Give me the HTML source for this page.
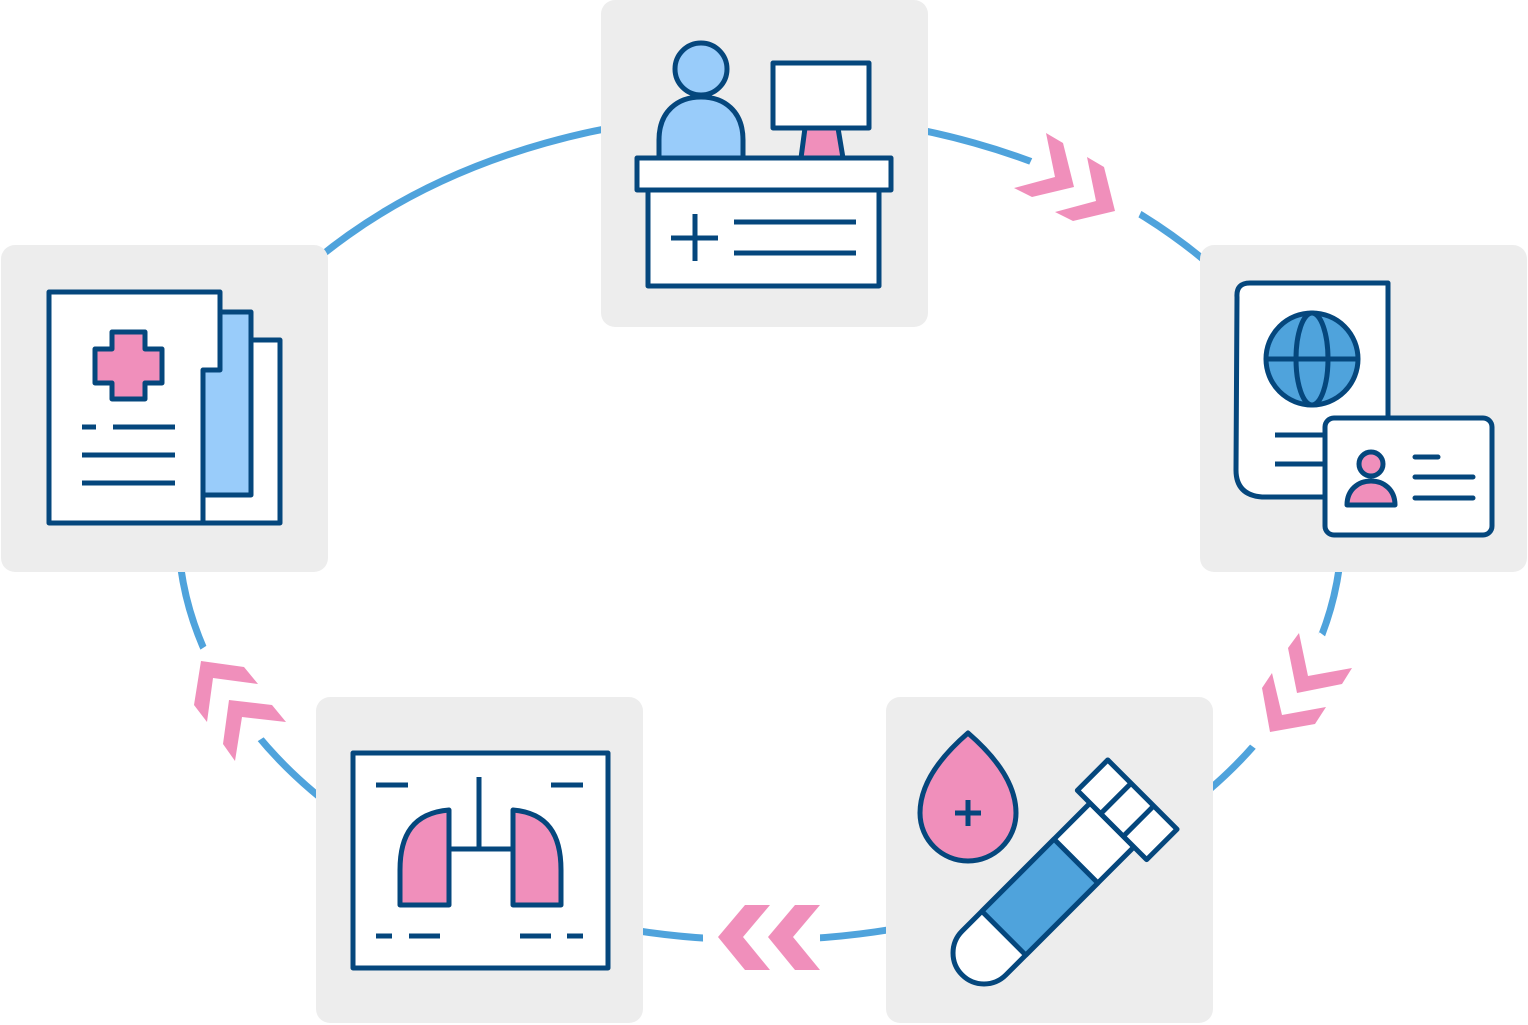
<!DOCTYPE html>
<html><head><meta charset="utf-8"><style>html,body{margin:0;padding:0;background:#fff}svg{display:block}</style></head>
<body>
<svg width="1528" height="1025" viewBox="0 0 1528 1025" xmlns="http://www.w3.org/2000/svg">
<!-- ring -->
<ellipse cx="760" cy="527" rx="582" ry="413" fill="none" stroke="#4fa3dc" stroke-width="7"/>
<g stroke="#fff" stroke-width="26" stroke-linecap="butt">
<line x1="1030" y1="163" x2="1140" y2="214"/>
<line x1="1330" y1="640" x2="1252" y2="746"/>
<line x1="703" y1="938" x2="820" y2="937"/>
<line x1="203" y1="648" x2="261" y2="739"/>
</g>
<!-- chevrons -->
<g fill="#f08fbb">
<polygon points="1046,133 1063,143 1074,187 1032,197 1014,188 1055,177"/>
<polygon points="1087,157 1104,167 1115,211 1073,221 1055,212 1096,201"/>
<polygon points="1299,633 1288,648 1297,693 1342,684 1352,668 1308,676"/>
<polygon points="1272,673 1262,688 1270,732 1315,724 1326,707 1282,715"/>
<polygon points="745,905 770,905 743,937 770,970 745,970 718,937"/>
<polygon points="795,905 820,905 793,937 820,970 795,970 768,937"/>
<polygon points="201,661 244,667 258,684 213,678 207,722 194,705"/>
<polygon points="229,700 272,705 286,722 242,717 235,761 223,744"/>
</g>
<!-- boxes -->
<g fill="#ededed">
<rect x="601" y="0" width="327" height="327" rx="14"/>
<rect x="1" y="245" width="327" height="327" rx="14"/>
<rect x="1200" y="245" width="327" height="327" rx="14"/>
<rect x="316" y="697" width="327" height="326" rx="14"/>
<rect x="886" y="697" width="327" height="326" rx="14"/>
</g>
<g stroke="#05477d" stroke-width="5" stroke-linejoin="round">
<!-- top: reception -->
<path d="M659,158 L659,140 C659,111 678,97 701,97 C724,97 743,111 743,140 L743,158" fill="#99ccfa"/>
<circle cx="701" cy="69" r="26" fill="#99ccfa"/>
<rect x="773" y="63" width="96" height="65" fill="#fff"/>
<polygon points="805,128 838,128 843,158 801,158" fill="#f08fbb"/>
<rect x="648" y="190" width="231" height="96" fill="#fff"/>
<rect x="637" y="158" width="254" height="32" fill="#fff"/>
<path d="M695,214 V261 M671,238 H718 M734,222 H856 M734,253 H856" fill="none"/>
<!-- right: passport + ID -->
<path d="M1388,420 L1388,283 L1250,283 Q1236,283 1237,297 L1236,470 Q1236,495 1262,497 L1328,497 Z" fill="#fff"/>
<circle cx="1312" cy="359" r="46" fill="#4fa3dc"/>
<ellipse cx="1312" cy="359" rx="16" ry="46" fill="none"/>
<path d="M1266,359 H1358 M1275,435 H1325 M1275,464 H1325" fill="none"/>
<rect x="1325" y="418" width="167" height="117" rx="9" fill="#fff"/>
<path d="M1347,505 C1347,490 1358,481 1371,481 C1384,481 1395,490 1395,505 Z" fill="#f08fbb"/>
<circle cx="1371" cy="464" r="12" fill="#f08fbb"/>
<path d="M1415,457 H1438 M1415,477 H1473 M1415,498 H1473" fill="none" stroke-linecap="round"/>
<!-- left: documents -->
<rect x="203" y="340" width="77" height="183" fill="#fff"/>
<rect x="203" y="312" width="48" height="183" fill="#99ccfa"/>
<path d="M49,292 H220 V370 H203 V523 H49 Z" fill="#fff"/>
<path d="M112,332 H145 V349 H162 V383 H145 V399 H112 V383 H95 V349 H112 Z" fill="#f08fbb"/>
<path d="M82,427 H96 M113,427 H175 M82,455 H175 M82,483 H175" fill="none"/>
<!-- bottom-left: x-ray -->
<rect x="353" y="753" width="255" height="215" fill="#fff"/>
<path d="M376,785 H408 M551,785 H583 M479,777 V849 M449,849 H513 M376,936 H392 M409,936 H440 M520,936 H551 M567,936 H583" fill="none"/>
<path d="M449,810 L449,905 L400,905 L400,870 C400,835 413,813 449,810 Z" fill="#f08fbb"/>
<path d="M513,810 L513,905 L561,905 L561,870 C561,835 548,813 513,810 Z" fill="#f08fbb"/>
<!-- bottom-right: blood -->
<path d="M968,733 C990,752 1016,780 1016,813 C1016,840 994,861 968,861 C942,861 920,840 920,813 C920,780 946,752 968,733 Z" fill="#f08fbb"/>
<path d="M968,800 V826 M955,813 H981" fill="none"/>
<g transform="translate(1112,825) rotate(45)">
<path d="M-31,0 H31 V181 A31,31 0 0 1 -31,181 Z" fill="#fff"/>
<rect x="-31" y="51" width="62" height="102" fill="#4fa3dc"/>
<rect x="-49" y="-43" width="98" height="43" fill="#fff"/>
<path d="M-16,-43 V0 M16,-43 V0" fill="none"/>
</g>
</g>
</svg>
</body></html>
